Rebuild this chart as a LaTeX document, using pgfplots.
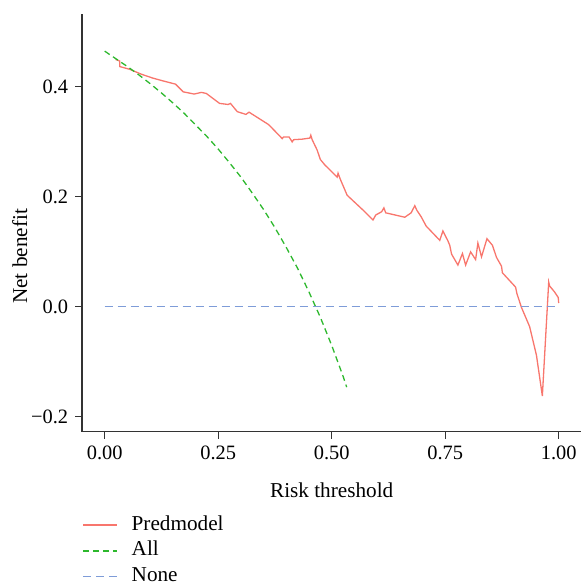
\documentclass[border=0pt]{standalone}
\usepackage{fontspec}
\setmainfont{Liberation Serif}
\usepackage{pgfplots}
\pgfplotsset{compat=1.18}
\definecolor{predred}{HTML}{F8766D}
\definecolor{allgreen}{HTML}{2DB82D}
\definecolor{noneblue}{HTML}{7E9CD8}

\begin{document}
\begin{tikzpicture}
\begin{axis}[
    name=ax,
    scale only axis,
    width=249.7pt, height=208.7pt,
    xmin=-0.05, xmax=1.05,
    ymin=-0.227, ymax=0.532,
    axis x line=bottom, axis y line=left,
    axis line style={-, black!80, line width=0.6pt},
    tick align=outside,
    major tick length=3.4pt,
    tick style={black!80, line width=0.6pt},
    xtick={0,0.25,0.5,0.75,1},
    xticklabels={0.00,0.25,0.50,0.75,1.00},
    ytick={-0.2,0,0.2,0.4},
    yticklabels={−0.2,0.0,0.2,0.4},
    ticklabel style={font=\fontsize{10.2}{12}\selectfont},
    /pgf/number format/assume math mode=true,
    xlabel={Risk threshold},
    ylabel={Net benefit},
    label style={font=\fontsize{10.6}{12}\selectfont},
    xlabel style={at={(axis description cs:0.5,0)}, anchor=center, yshift=-29.5pt},
    ylabel style={at={(axis description cs:-0.1245,0.42)}, anchor=center},
    legend cell align=left,
    legend style={
        at={(axis description cs:0,0)}, anchor=north west,
        xshift=-3pt, yshift=-39.5pt,
        draw=none, fill=none,
        font=\fontsize{10.6}{12}\selectfont,
        row sep=2.9pt,
        nodes={inner sep=0pt, text height=7.5pt, text depth=2.5pt},
    },
    legend image code/.code={\draw[#1] (0pt,0pt) -- (17pt,0pt); \path (24pt,0pt);},
]
% Predmodel
\addplot[predred, line width=0.65pt] coordinates {
(0.024,0.450) (0.033,0.447) (0.033,0.437) (0.055,0.432) (0.081,0.423)
(0.106,0.416) (0.128,0.411) (0.156,0.405) (0.173,0.391) (0.197,0.387)
(0.213,0.390) (0.224,0.388) (0.253,0.370) (0.272,0.368) (0.277,0.370)
(0.292,0.355) (0.311,0.350) (0.318,0.354) (0.360,0.332) (0.364,0.329)
(0.391,0.306) (0.394,0.309) (0.406,0.309) (0.413,0.300) (0.416,0.304)
(0.435,0.305) (0.452,0.307) (0.454,0.312) (0.457,0.304) (0.468,0.285)
(0.475,0.268) (0.485,0.258) (0.512,0.236) (0.514,0.243) (0.519,0.232)
(0.534,0.203) (0.569,0.176) (0.591,0.158) (0.597,0.167) (0.610,0.173)
(0.615,0.180) (0.619,0.171) (0.661,0.163) (0.675,0.171) (0.683,0.184)
(0.688,0.175) (0.697,0.164) (0.708,0.147) (0.738,0.121) (0.745,0.138)
(0.756,0.120) (0.760,0.112) (0.764,0.096) (0.778,0.076) (0.788,0.097)
(0.795,0.076) (0.806,0.100) (0.817,0.086) (0.822,0.116) (0.830,0.091)
(0.842,0.124) (0.854,0.112) (0.863,0.090) (0.874,0.074) (0.876,0.062)
(0.905,0.036) (0.908,0.024) (0.918,-0.001) (0.936,-0.036) (0.951,-0.088)
(0.964,-0.162) (0.978,0.045) (0.980,0.038) (0.991,0.027) (0.999,0.017)
(1.000,0.007)
};
\addlegendentry{Predmodel}
% All
\addplot[allgreen, line width=0.65pt, dash pattern=on 3pt off 2pt] coordinates {
(0.000,0.465) (0.025,0.451) (0.050,0.437) (0.075,0.422) (0.100,0.406)
(0.125,0.389) (0.150,0.371) (0.175,0.352) (0.200,0.331) (0.225,0.310)
(0.250,0.287) (0.275,0.262) (0.300,0.236) (0.325,0.207) (0.350,0.177)
(0.375,0.144) (0.400,0.108) (0.425,0.070) (0.450,0.027) (0.475,-0.019)
(0.500,-0.070) (0.525,-0.126) (0.533,-0.146)
};
\addlegendentry{All}
% None
\addplot[noneblue, line width=0.6pt, dash pattern=on 4pt off 2.5pt] coordinates {
(0,0) (1,0)
};
\addlegendentry{None}
\end{axis}
\pgfresetboundingbox
\path (ax.south west) ++(-41pt,-76.15pt) rectangle ++(290pt,292pt);
\end{tikzpicture}
\end{document}
